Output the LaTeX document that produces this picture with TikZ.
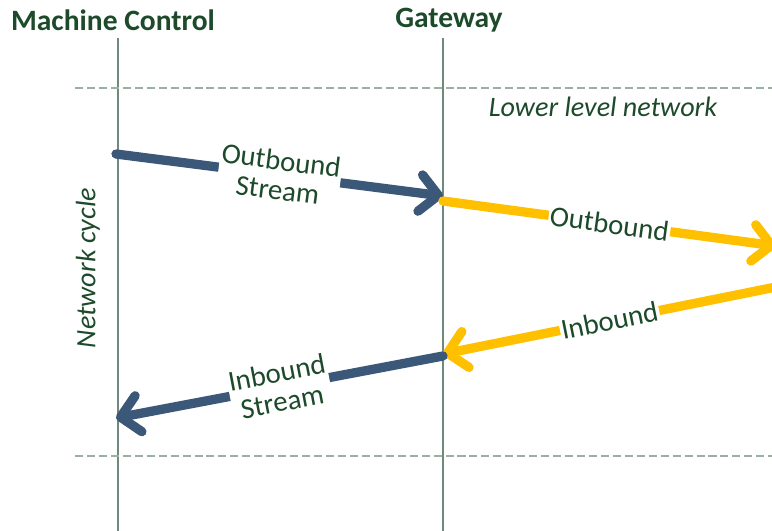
\documentclass[tikz,border=0pt]{standalone}
\usepackage{fontspec}
\setmainfont{Carlito}
\usepackage{tikz}
\usetikzlibrary{arrows.meta}
\usepackage{xcolor}
\definecolor{ForestText}{HTML}{1D4A2A}
\definecolor{SlateBlue}{HTML}{3B5878}
\definecolor{AmberLine}{HTML}{FFC000}
\definecolor{LifeGray}{HTML}{6F8A7C}
\definecolor{CycleGray}{HTML}{9AB0A2}

\begin{document}
\begin{tikzpicture}[x=0.025cm, y=-0.025cm,
    heading/.style={font=\fontsize{21}{23}\selectfont\bfseries, text=ForestText},
    note/.style={font=\fontsize{20}{22}\selectfont\itshape, text=ForestText},
    msglabel/.style={font=\fontsize{20.5}{21}\selectfont, text=ForestText,
      fill=white, align=center, inner sep=1pt, midway, sloped},
    lifeline/.style={draw=LifeGray, line width=0.8pt},
    cycleline/.style={draw=CycleGray, line width=0.8pt, dash pattern=on 5.7pt off 2.8pt},
    msg/.style={line width=6.6pt, line cap=round,
      -{Straight Barb[length=13pt, width=26pt, line cap=round, line join=round]}}]
  \useasboundingbox (0,0) rectangle (772,531);

  % participants
  \node[heading] (machine) at (113,20) {Machine Control};
  \node[heading] (gateway) at (449,20) {Gateway};
  \coordinate (machinetop) at (118,38);
  \coordinate (machinebot) at (118,531);
  \coordinate (gatewaytop) at (443,38);
  \coordinate (gatewaybot) at (443,531);
  \draw[lifeline] (machinetop) -- (machinebot);
  \draw[lifeline] (gatewaytop) -- (gatewaybot);

  % one network cycle
  \coordinate (cyclestartL) at (75,88);
  \coordinate (cyclestartR) at (772,88);
  \coordinate (cycleendL) at (75,456);
  \coordinate (cycleendR) at (772,456);
  \draw[cycleline] (cyclestartL) -- (cyclestartR);
  \draw[cycleline] (cycleendL) -- (cycleendR);
  \node[note] (lowernet) at (603,107) {Lower level network};
  \node[note, rotate=90] (cycle) at (88,268) {Network cycle};

  % messages
  \coordinate (outA) at (116,154);
  \coordinate (outB) at (443,196);
  \coordinate (outC) at (443,201);
  \coordinate (outD) at (776,246);
  \coordinate (inA) at (776,287);
  \coordinate (inB) at (443,354);
  \coordinate (inC) at (443,356);
  \coordinate (inD) at (116,418);
  \draw[msg, draw=SlateBlue] (outA) -- node[msglabel] {Outbound\\Stream} (outB);
  \draw[msg, draw=AmberLine] (outC) -- node[msglabel] {Outbound} (outD);
  \draw[msg, draw=AmberLine] (inA) -- node[msglabel] {Inbound} (inB);
  \draw[msg, draw=SlateBlue] (inC) -- node[msglabel] {Inbound\\Stream} (inD);
\end{tikzpicture}
\end{document}
